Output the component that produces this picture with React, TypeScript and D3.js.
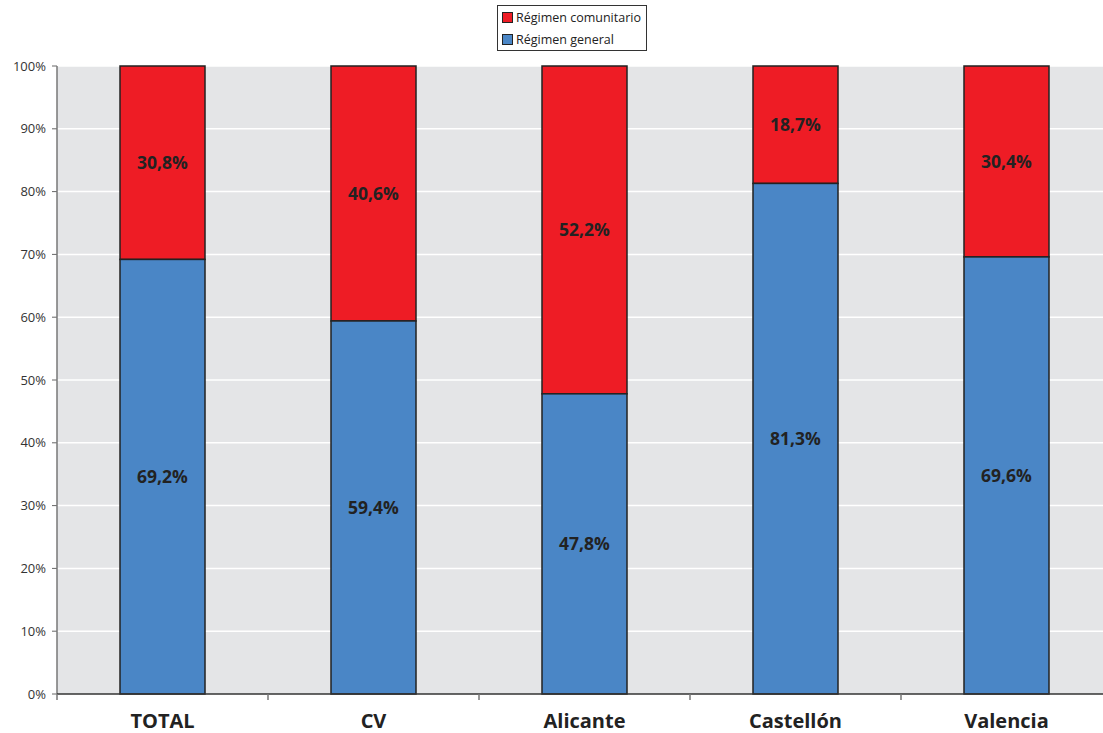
import React from "react";
import * as d3 from "d3";

const categories = ["TOTAL", "CV", "Alicante", "Castellón", "Valencia"];
const general = [69.2, 59.4, 47.8, 81.3, 69.6];
const comunitario = [30.8, 40.6, 52.2, 18.7, 30.4];
const yTicks = [0, 10, 20, 30, 40, 50, 60, 70, 80, 90, 100];

const W = 1103, H = 733;
const left = 57, top = 66, bottom = 694;
const bandW = 211;
const right = left + bandW * categories.length;

export default function App() {
  const x = d3.scaleBand<string>().domain(categories).range([left, right]).paddingInner(0).paddingOuter(0);
  const y = d3.scaleLinear().domain([0, 100]).range([bottom, top]);
  const barW = 85;
  const font = "'Open Sans', 'Noto Sans', sans-serif";
  const fmt = (v: number) => v.toFixed(1).replace(".", ",") + "%";
  return (
    <svg width={W} height={H} style={{ position: "absolute", left: 0, top: 0, background: "#fff" }} fontFamily={font}>
      <rect x={left} y={top} width={right - left} height={bottom - top} fill="#E4E5E7" />
      {yTicks.map((t) => (
        <g key={t}>
          {t > 0 && <line x1={left} x2={right} y1={y(t)} y2={y(t)} stroke="#fff" strokeWidth={1.5} />}
          <line x1={left - 5} x2={left} y1={y(t)} y2={y(t)} stroke="#666" strokeWidth={1} />
          <text x={left - 11} y={y(t)} dy="0.35em" textAnchor="end" fontSize={13} fill="#333">{t}%</text>
        </g>
      ))}
      <line x1={left} x2={left} y1={top} y2={bottom} stroke="#777" strokeWidth={1.5} />
      {categories.map((c, i) => {
        const cx = x(c)! + x.bandwidth() / 2;
        const g = general[i];
        const r = comunitario[i];
        return (
          <g key={c}>
            <rect x={cx - barW / 2} y={y(g + r)} width={barW} height={y(g) - y(g + r)} fill="#EE1C25" stroke="#222" strokeWidth={1.5} />
            <rect x={cx - barW / 2} y={y(g)} width={barW} height={y(0) - y(g)} fill="#4A86C6" stroke="#222" strokeWidth={1.5} />
            <text x={cx} y={(y(g + r) + y(g)) / 2} dy="0.35em" textAnchor="middle" fontSize={17.5} fontWeight="bold" fill="#222">{fmt(r)}</text>
            <text x={cx} y={(y(g) + y(0)) / 2} dy="0.35em" textAnchor="middle" fontSize={17.5} fontWeight="bold" fill="#222">{fmt(g)}</text>
            <text x={cx} y={728} textAnchor="middle" fontSize={20} fontWeight="bold" fill="#222">{c}</text>
          </g>
        );
      })}
      <line x1={left} x2={right} y1={bottom} y2={bottom} stroke="#333" strokeWidth={1.5} />
      {d3.range(categories.length + 1).map((i) => (
        <line key={i} x1={left + i * bandW} x2={left + i * bandW} y1={bottom} y2={bottom + 6} stroke="#777" strokeWidth={1.5} />
      ))}
      <g>
        <rect x={497.5} y={5.5} width={149} height={45} fill="#fff" stroke="#333" strokeWidth={1} />
        <rect x={502.5} y={12.5} width={10} height={10} fill="#EE1C25" stroke="#222" strokeWidth={1} />
        <text x={516} y={17.5} dy="0.35em" fontSize={12.5} fill="#222">Régimen comunitario</text>
        <rect x={502.5} y={34.5} width={10} height={10} fill="#4A86C6" stroke="#222" strokeWidth={1} />
        <text x={516} y={39.5} dy="0.35em" fontSize={12.5} fill="#222">Régimen general</text>
      </g>
    </svg>
  );
}
